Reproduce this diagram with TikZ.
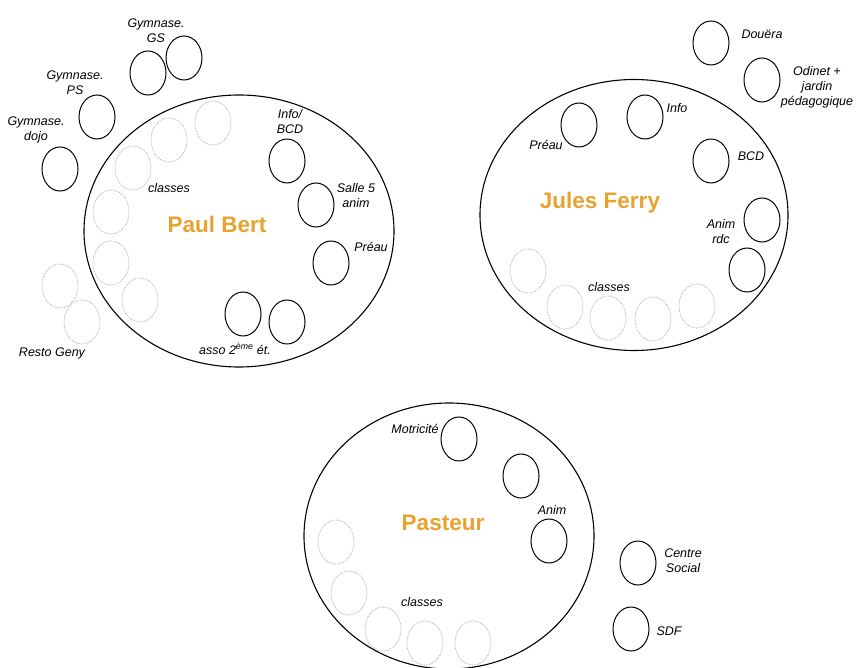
\documentclass[tikz,border=0pt]{standalone}
\usepackage{fontspec}
\setmainfont{Liberation Sans}
\usetikzlibrary{shapes.geometric}
\definecolor{titleorange}{RGB}{232,162,48}
\tikzset{
  school/.style={draw, ellipse, line width=1.1pt, inner sep=0pt},
  room/.style={draw, ellipse, line width=1pt, inner sep=0pt,
    minimum width=36pt, minimum height=44pt},
  classroom/.style={room, draw=gray!75, line width=0.7pt, densely dotted},
  lbl/.style={font=\fontsize{12.5}{15}\selectfont\itshape, align=center, inner sep=0pt},
  title/.style={font=\fontsize{22.5}{26}\selectfont\bfseries, text=titleorange}
}
\begin{document}
\begin{tikzpicture}[x=1pt,y=-1pt]
  \useasboundingbox[fill=white] (0,0) rectangle (856,668);

  % Paul Bert
  \node[school, minimum width=310pt, minimum height=272pt] (pb) at (239,231) {};
  \node[title] (pb-title) at (217,224) {Paul Bert};
  \node[room] (pb-gs1) at (148,73) {};
  \node[room] (pb-gs2) at (184,58) {};
  \node[lbl] (pb-gs) at (156,31) {Gymnase.\\GS};
  \node[room] (pb-ps) at (97,117) {};
  \node[lbl] (pb-psl) at (75,83) {Gymnase.\\PS};
  \node[room] (pb-dojo) at (60,169) {};
  \node[lbl] (pb-dojol) at (36,130) {Gymnase.\\dojo};
  \node[room] (pb-info) at (287,161) {};
  \node[lbl] (pb-infol) at (290,122) {Info/\\BCD};
  \node[room] (pb-salle) at (316,205) {};
  \node[lbl] (pb-sallel) at (356,196) {Salle 5\\anim};
  \node[room] (pb-preau) at (331,263) {};
  \node[lbl] (pb-preaul) at (371,247) {Préau};
  \node[room] (pb-asso1) at (243,314) {};
  \node[room] (pb-asso2) at (287,322) {};
  \node[lbl] (pb-assol) at (235,349) {asso 2\textsuperscript{ème} ét.};
  \foreach \x/\y [count=\i] in {213/123, 169/140, 133/168, 111/212, 111/263, 140/300, 60/286, 82/322}
    \node[classroom] (pb-c\i) at (\x,\y) {};
  \node[lbl] (pb-classes) at (169,188) {classes};
  \node[lbl] (pb-resto) at (52,353) {Resto Geny};

  % Jules Ferry
  \node[school, minimum width=308pt, minimum height=271pt] (jf) at (634,215) {};
  \node[title] (jf-title) at (600,203) {Jules Ferry};
  \node[room] (jf-douera) at (711,43) {};
  \node[lbl] (jf-doueral) at (762,34) {Douëra};
  \node[room] (jf-odinet) at (762,80) {};
  \node[lbl] (jf-odinetl) at (817,87) {Odinet +\\jardin\\pédagogique};
  \node[room] (jf-preau) at (579,125) {};
  \node[lbl] (jf-preaul) at (546,145) {Préau};
  \node[room] (jf-info) at (645,117) {};
  \node[lbl] (jf-infol) at (677,108) {Info};
  \node[room] (jf-bcd) at (711,161) {};
  \node[lbl] (jf-bcdl) at (751,156) {BCD};
  \node[room] (jf-anim1) at (762,220) {};
  \node[room] (jf-anim2) at (747,270) {};
  \node[lbl] (jf-animl) at (721,232) {Anim\\rdc};
  \foreach \x/\y [count=\i] in {528/271, 565/307, 608/318, 653/319, 697/306}
    \node[classroom] (jf-c\i) at (\x,\y) {};
  \node[lbl] (jf-classes) at (609,287) {classes};

  % Pasteur
  \node[school, minimum width=290pt, minimum height=266pt] (pa) at (449,536) {};
  \node[title] (pa-title) at (443,523) {Pasteur};
  \node[room] (pa-motr) at (459,439) {};
  \node[lbl] (pa-motrl) at (415,429) {Motricité};
  \node[room] (pa-r2) at (521,476) {};
  \node[room] (pa-anim) at (549,541) {};
  \node[lbl] (pa-animl) at (552,510) {Anim};
  \foreach \x/\y [count=\i] in {336/542, 349/593, 383/629, 425/643, 473/643}
    \node[classroom] (pa-c\i) at (\x,\y) {};
  \node[lbl] (pa-classes) at (422,602) {classes};
  \node[room] (pa-centre) at (638,563) {};
  \node[lbl] (pa-centrel) at (683,561) {Centre\\Social};
  \node[room] (pa-sdf) at (631,629) {};
  \node[lbl] (pa-sdfl) at (669,631) {SDF};
\end{tikzpicture}
\end{document}
